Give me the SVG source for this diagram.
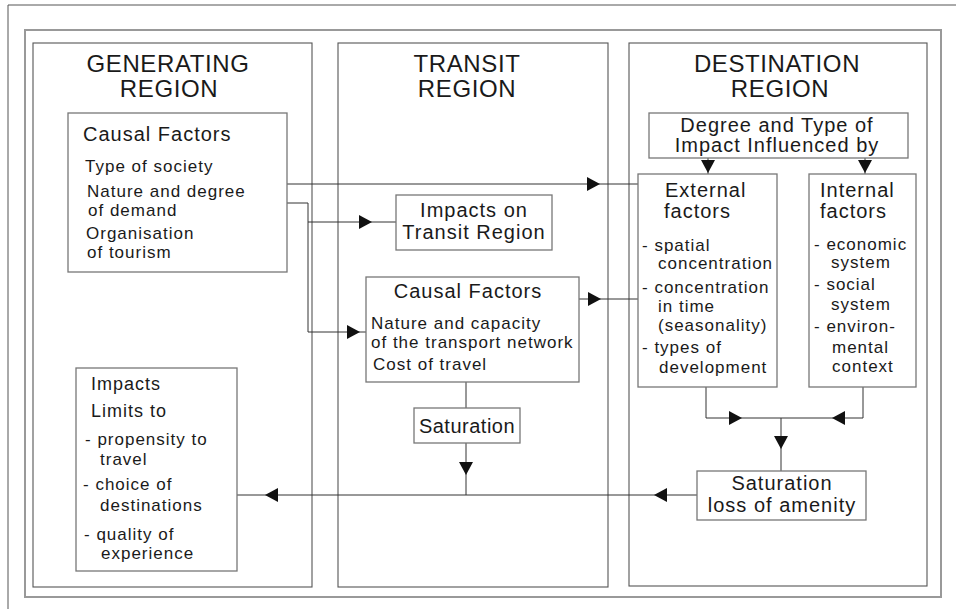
<svg xmlns="http://www.w3.org/2000/svg" xmlns:xlink="http://www.w3.org/1999/xlink" width="956" height="609" viewBox="0 0 956 609">
<style>
text{font-family:"Liberation Sans",Arial,sans-serif;fill:#1a1a1a;letter-spacing:1px}
.title{font-size:24px;letter-spacing:0.6px;text-anchor:middle}
.h{font-size:20px}
.b{font-size:17px}
.m{text-anchor:middle}
.region{fill:#fff;stroke:#555;stroke-width:1.1}
.box{fill:#fff;stroke:#777;stroke-width:1.3}
.frame{fill:none;stroke:#999;stroke-width:2}
.con{fill:none;stroke:#333;stroke-width:1}
.ah{fill:#111}
</style>
<defs>
<path id="ah" d="M0,-7 L13,0 L0,7 Z"/>
</defs>
<rect width="956" height="609" fill="#fff"/>
<path d="M8,609 V5 H956" fill="none" stroke="#555" stroke-width="1"/>
<rect class="frame" x="25" y="30" width="916" height="567"/>

<g id="generating-region">
<rect class="region" x="33" y="43" width="279" height="544"/>
<text class="title" x="168" y="72">GENERATING</text>
<text class="title" x="169" y="97">REGION</text>
</g>
<g id="transit-region">
<rect class="region" x="338" y="43" width="270" height="544"/>
<text class="title" x="467" y="72">TRANSIT</text>
<text class="title" x="467" y="97">REGION</text>
</g>
<g id="destination-region">
<rect class="region" x="629" y="43" width="298" height="543"/>
<text class="title" x="777" y="72">DESTINATION</text>
<text class="title" x="780" y="97">REGION</text>
</g>

<g id="connectors">
<path class="con" d="M287,184 H638"/>
<path class="con" d="M287,203 H308 V332 H366"/>
<path class="con" d="M308,222 H396"/>
<path class="con" d="M579,299 H638"/>
<path class="con" d="M466,382 V408"/>
<path class="con" d="M466,443 V495"/>
<path class="con" d="M697,495 H237"/>
<path class="con" d="M708,158 V174"/>
<path class="con" d="M865,158 V174"/>
<path class="con" d="M706,387 V418 H863 V387"/>
<path class="con" d="M781,418 V471"/>
<use xlink:href="#ah" class="ah" transform="translate(587,184)"/>
<use xlink:href="#ah" class="ah" transform="translate(347,332)"/>
<use xlink:href="#ah" class="ah" transform="translate(359,222)"/>
<use xlink:href="#ah" class="ah" transform="translate(588,299)"/>
<use xlink:href="#ah" class="ah" transform="translate(466,462) rotate(90)"/>
<use xlink:href="#ah" class="ah" transform="translate(278,495) rotate(180)"/>
<use xlink:href="#ah" class="ah" transform="translate(667,495) rotate(180)"/>
<use xlink:href="#ah" class="ah" transform="translate(708,160) rotate(90)"/>
<use xlink:href="#ah" class="ah" transform="translate(865,160) rotate(90)"/>
<use xlink:href="#ah" class="ah" transform="translate(729,418)"/>
<use xlink:href="#ah" class="ah" transform="translate(845,418) rotate(180)"/>
<use xlink:href="#ah" class="ah" transform="translate(781,436) rotate(90)"/>
</g>

<g id="gen-causal-factors">
<rect class="box" x="68" y="113" width="219" height="159"/>
<text class="h" x="83" y="141">Causal Factors</text>
<text class="b" x="85" y="172">Type of society</text>
<text class="b" x="87" y="197">Nature and degree</text>
<text class="b" x="88" y="216">of demand</text>
<text class="b" x="86" y="239">Organisation</text>
<text class="b" x="87" y="258">of tourism</text>
</g>

<g id="gen-impacts">
<rect class="box" x="76" y="368" width="161" height="203"/>
<text class="b" style="font-size:18px" x="91" y="390">Impacts</text>
<text class="b" style="font-size:18px" x="91" y="417">Limits to</text>
<text class="b" x="85" y="445">- propensity to</text>
<text class="b" x="100" y="465">travel</text>
<text class="b" x="83" y="490">- choice of</text>
<text class="b" x="100" y="511">destinations</text>
<text class="b" x="84" y="540">- quality of</text>
<text class="b" x="101" y="559">experience</text>
</g>

<g id="transit-impacts">
<rect class="box" x="396" y="195" width="156" height="55"/>
<text class="h m" x="474" y="217">Impacts on</text>
<text class="h m" x="474" y="239">Transit Region</text>
</g>

<g id="transit-causal-factors">
<rect class="box" x="366" y="277" width="213" height="105"/>
<text class="h m" x="468" y="298">Causal Factors</text>
<text class="b" x="371" y="329">Nature and capacity</text>
<text class="b" x="371" y="348">of the transport network</text>
<text class="b" x="373" y="370">Cost of travel</text>
</g>

<g id="transit-saturation">
<rect class="box" x="414" y="408" width="106" height="35"/>
<text class="h m" style="letter-spacing:0.5px" x="467" y="433">Saturation</text>
</g>

<g id="degree-type">
<rect class="box" x="649" y="113" width="259" height="45"/>
<text class="h m" x="777" y="132">Degree and Type of</text>
<text class="h m" x="777" y="152">Impact Influenced by</text>
</g>

<g id="external-factors">
<rect class="box" x="638" y="174" width="139" height="213"/>
<text class="h" x="665" y="197">External</text>
<text class="h" x="664" y="218">factors</text>
<text class="b" x="642" y="251">- spatial</text>
<text class="b" x="658" y="269">concentration</text>
<text class="b" x="642" y="293">- concentration</text>
<text class="b" x="658" y="312">in time</text>
<text class="b" x="658" y="331">(seasonality)</text>
<text class="b" x="642" y="353">- types of</text>
<text class="b" x="659" y="373">development</text>
</g>

<g id="internal-factors">
<rect class="box" x="809" y="174" width="107" height="213"/>
<text class="h" x="820" y="197">Internal</text>
<text class="h" x="820" y="218">factors</text>
<text class="b" x="814" y="250">- economic</text>
<text class="b" x="831" y="268">system</text>
<text class="b" x="814" y="290">- social</text>
<text class="b" x="831" y="310">system</text>
<text class="b" x="814" y="332">- environ-</text>
<text class="b" x="832" y="353">mental</text>
<text class="b" x="832" y="372">context</text>
</g>

<g id="dest-saturation">
<rect class="box" x="697" y="471" width="169" height="49"/>
<text class="h m" x="782" y="490">Saturation</text>
<text class="h m" x="782" y="512">loss of amenity</text>
</g>
</svg>
